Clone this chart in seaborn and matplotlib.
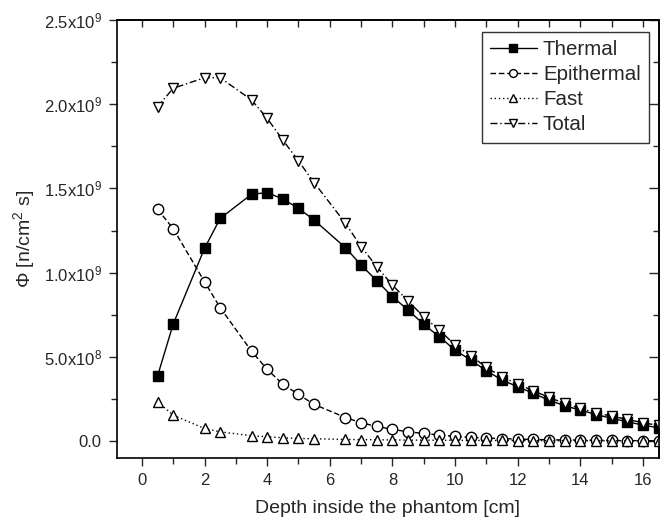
import matplotlib
matplotlib.use("Agg")
import matplotlib.pyplot as plt
import seaborn as sns
import pandas as pd
from matplotlib.ticker import FixedLocator, MultipleLocator

sns.set_style("ticks")
plt.rcParams['font.family'] = ['Liberation Sans', 'DejaVu Sans']
plt.rcParams['mathtext.default'] = 'regular'

# depth [cm]
depth = [0.5, 1, 2, 2.5, 3.5, 4, 4.5, 5, 5.5,
         6.5, 7, 7.5, 8, 8.5, 9, 9.5, 10, 10.5, 11, 11.5,
         12, 12.5, 13, 13.5, 14, 14.5, 15, 15.5, 16, 16.5]

# fluence rate in units of 1e9 n/cm^2 s
thermal = [0.386, 0.695, 1.144, 1.322, 1.465, 1.475, 1.437, 1.382, 1.312,
           1.148, 1.045, 0.952, 0.857, 0.778, 0.693, 0.619, 0.540, 0.481, 0.418, 0.362,
           0.323, 0.283, 0.243, 0.210, 0.184, 0.158, 0.135, 0.115, 0.095, 0.079]
epithermal = [1.376, 1.261, 0.946, 0.792, 0.534, 0.426, 0.338, 0.277, 0.218,
              0.140, 0.109, 0.087, 0.070, 0.055, 0.046, 0.036, 0.028, 0.022, 0.018, 0.015,
              0.012, 0.010, 0.008, 0.007, 0.006, 0.005, 0.004, 0.003, 0.003, 0.002]
fast = [0.234, 0.154, 0.075, 0.055, 0.032, 0.026, 0.020, 0.016, 0.014,
        0.010, 0.009, 0.008, 0.007, 0.006, 0.006, 0.005, 0.005, 0.004, 0.004, 0.004,
        0.003, 0.003, 0.003, 0.003, 0.002, 0.002, 0.002, 0.002, 0.002, 0.002]
total = [1.985, 2.094, 2.157, 2.157, 2.025, 1.916, 1.787, 1.663, 1.534,
         1.293, 1.154, 1.035, 0.926, 0.831, 0.738, 0.659, 0.570, 0.507, 0.437, 0.382,
         0.338, 0.299, 0.259, 0.224, 0.194, 0.168, 0.148, 0.129, 0.109, 0.093]

ytick_vals = [0.0, 0.5, 1.0, 1.5, 2.0, 2.5]
ytick_labels = ["0.0", "5.0x10$^8$", "1.0x10$^9$", "1.5x10$^9$", "2.0x10$^9$", "2.5x10$^9$"]

df = pd.DataFrame({'depth': depth, 'Thermal': thermal, 'Epithermal': epithermal,
                   'Fast': fast, 'Total': total})

fig = plt.figure(figsize=(6.6, 5.24), dpi=100)
ax = fig.add_axes([0.177, 0.126, 0.821, 0.836])

styles = {
    'Thermal': dict(marker='s', linestyle='-', mfc='black'),
    'Epithermal': dict(marker='o', linestyle=(0, (4, 2)), mfc='white'),
    'Fast': dict(marker='^', linestyle=(0, (1, 2)), mfc='white'),
    'Total': dict(marker='v', linestyle=(0, (5, 2, 1, 2)), mfc='white'),
}
for name, st in styles.items():
    sns.lineplot(data=df, x='depth', y=name, ax=ax, color='black', lw=1.0,
                 marker=st['marker'], linestyle=st['linestyle'],
                 markerfacecolor=st['mfc'], markeredgecolor='black',
                 markeredgewidth=1.0, markersize=7.5, label=name)

ax.set_xlim(-0.8, 16.5)
ax.set_ylim(-0.1, 2.5)
ax.xaxis.set_major_locator(MultipleLocator(2))
ax.xaxis.set_minor_locator(MultipleLocator(1))
ax.yaxis.set_major_locator(FixedLocator(ytick_vals))
ax.set_yticklabels(ytick_labels)
ax.yaxis.set_minor_locator(MultipleLocator(0.25))
ax.tick_params(which='major', direction='out', length=6, width=1, labelsize=12, pad=5)
ax.tick_params(which='minor', direction='out', length=4, width=1)

# inward ticks on top and right
top = ax.secondary_xaxis('top')
top.xaxis.set_major_locator(MultipleLocator(2))
top.xaxis.set_minor_locator(MultipleLocator(1))
top.tick_params(which='both', direction='in', length=5, width=1, labeltop=False)
right = ax.secondary_yaxis('right')
right.yaxis.set_major_locator(FixedLocator(ytick_vals))
right.yaxis.set_minor_locator(MultipleLocator(0.25))
right.tick_params(which='major', direction='in', length=7, width=1, labelright=False)
right.tick_params(which='minor', direction='in', length=4, width=1)

for sp in list(ax.spines.values()) + [top.spines['top'], right.spines['right']]:
    sp.set_color('black')
    sp.set_linewidth(1.2)

ax.set_xlabel('Depth inside the phantom [cm]', fontsize=14)
ax.set_ylabel('Φ [n/cm$^2$ s]', fontsize=14)
ax.yaxis.set_label_coords(-0.147, 0.5)
ax.xaxis.set_label_coords(0.5, -0.095)

leg = ax.legend(loc='upper right', bbox_to_anchor=(0.982, 0.973), borderaxespad=0,
                fontsize=14.8, frameon=True, fancybox=False, handlelength=2.27,
                labelspacing=0.3, handletextpad=0.3, borderpad=0.4, markerscale=0.75)
leg.get_frame().set_edgecolor('black')
leg.get_frame().set_linewidth(1.0)

plt.savefig('out.png', dpi=100)
plt.close()
